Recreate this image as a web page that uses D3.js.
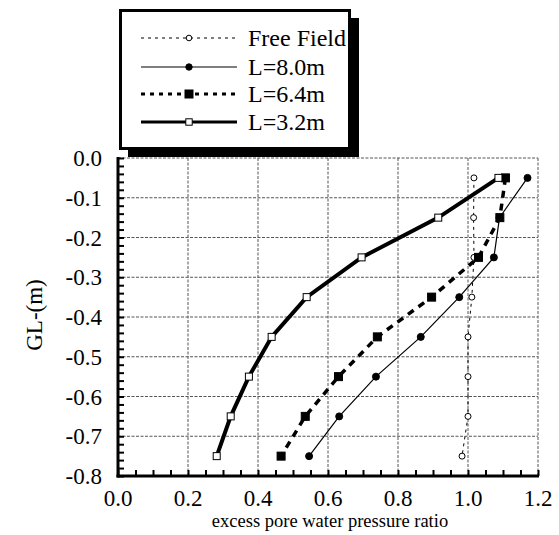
<!DOCTYPE html>
<html lang="en">
<head>
<meta charset="utf-8"/>
<title>Excess pore water pressure ratio</title>
<script src="https://cdnjs.cloudflare.com/ajax/libs/d3/7.8.5/d3.min.js"></script>
<style>
  body { margin: 0; background: #fff; }
  text { font-family: "Liberation Serif", "Times New Roman", serif; fill: #000; }
</style>
</head>
<body>
<svg id="chart" width="559" height="535"></svg>
<script>
// depths (m) of the measuring points
var depths = [-0.05, -0.15, -0.25, -0.35, -0.45, -0.55, -0.65, -0.75];

// excess pore water pressure ratio
var freeField = [1.017, 1.016, 1.017, 1.011, 1.0, 1.0, 1.0, 0.983];
var l80 = [1.17, 1.09, 1.074, 0.975, 0.865, 0.737, 0.632, 0.546];
var l64 = [1.107, 1.091, 1.03, 0.896, 0.741, 0.63, 0.535, 0.466];
var l32 = [1.087, 0.915, 0.696, 0.539, 0.439, 0.374, 0.322, 0.282];

var xTicks = [0, 0.2, 0.4, 0.6, 0.8, 1.0, 1.2];
var yTicks = [0, -0.1, -0.2, -0.3, -0.4, -0.5, -0.6, -0.7, -0.8];
var legendNames = ["Free Field", "L=8.0m", "L=6.4m", "L=3.2m"];

var svg = d3.select("#chart");
var x = d3.scaleLinear().domain([0, 1.2]).range([118, 538]);
var y = d3.scaleLinear().domain([0, -0.8]).range([158, 476]);

// grid (dashed grey), includes the top and right border
var grid = svg.append("g");
xTicks.forEach(function(t) {
  grid.append("line").attr("x1", x(t)).attr("x2", x(t)).attr("y1", y(0)).attr("y2", y(-0.8))
    .attr("stroke", "#555").attr("stroke-width", 1).attr("stroke-dasharray", "3,1.5");
});
yTicks.forEach(function(t) {
  grid.append("line").attr("x1", x(0)).attr("x2", x(1.2)).attr("y1", y(t)).attr("y2", y(t))
    .attr("stroke", "#555").attr("stroke-width", 1).attr("stroke-dasharray", "3,1.5");
});

// axes with inside ticks
var xAxis = d3.axisBottom(x).tickValues(d3.range(0, 1.2001, 0.05)).tickSize(-6).tickFormat("");
var gx = svg.append("g").attr("transform", "translate(0," + y(-0.8) + ")").call(xAxis);
var yAxis = d3.axisLeft(y).tickValues(d3.range(0, -0.8001, -0.02)).tickSize(-6).tickFormat("");
var gy = svg.append("g").attr("transform", "translate(" + x(0) + ",0)").call(yAxis);
[gx, gy].forEach(function(g) {
  g.selectAll(".tick line").attr("stroke", "#000").attr("stroke-width", 2);
  g.select(".domain").remove();
});
svg.append("line").attr("x1", x(0)).attr("x2", x(0)).attr("y1", y(0) - 1).attr("y2", y(-0.8) + 1.5)
  .attr("stroke", "#000").attr("stroke-width", 3);
svg.append("line").attr("x1", x(0) - 1.5).attr("x2", x(1.2) + 1).attr("y1", y(-0.8)).attr("y2", y(-0.8))
  .attr("stroke", "#000").attr("stroke-width", 3);

// tick labels
xTicks.forEach(function(t) {
  svg.append("text").attr("x", x(t)).attr("y", 506).attr("text-anchor", "middle")
    .attr("font-size", 23).text(d3.format(".1f")(t));
});
yTicks.forEach(function(t) {
  svg.append("text").attr("x", 102).attr("y", y(t) + 8).attr("text-anchor", "end")
    .attr("font-size", 23).text(d3.format(".1f")(t).replace("−", "-"));
});
svg.append("text").attr("x", 330).attr("y", 527).attr("text-anchor", "middle")
  .attr("font-size", 18.5).text("excess pore water pressure ratio");
svg.append("text").attr("transform", "translate(42,315) rotate(-90)").attr("text-anchor", "middle")
  .attr("font-size", 23).text("GL-(m)");

// series
var series = [
  { vals: freeField, width: 1, dash: "3,4", marker: "circle", fill: "#fff", r: 3, lw: 1, lr: 2.8 },
  { vals: l80, width: 1.2, dash: null, marker: "circle", fill: "#000", r: 3.5, lw: 1.2, lr: 3.2 },
  { vals: l64, width: 3.5, dash: "7,6", marker: "square", fill: "#000", r: 4, lw: 3, lr: 4, ldash: "4,5" },
  { vals: l32, width: 4, dash: null, marker: "square", fill: "#fff", r: 3.5, lw: 3, lr: 3.2 }
];
var line = d3.line().x(function(d) { return x(d[0]); }).y(function(d) { return y(d[1]); });

function drawMarker(g, s, cx, cy, r) {
  if (s.marker === "circle") {
    g.append("circle").attr("cx", cx).attr("cy", cy).attr("r", r)
      .attr("fill", s.fill).attr("stroke", "#000").attr("stroke-width", 1);
  } else {
    g.append("rect").attr("x", cx - r).attr("y", cy - r).attr("width", 2 * r).attr("height", 2 * r)
      .attr("fill", s.fill).attr("stroke", "#000").attr("stroke-width", 1);
  }
}

series.forEach(function(s) {
  var pts = s.vals.map(function(v, i) { return [v, depths[i]]; });
  svg.append("path").attr("d", line(pts)).attr("fill", "none").attr("stroke", "#000")
    .attr("stroke-width", s.width).attr("stroke-dasharray", s.dash);
});
series.forEach(function(s) {
  var g = svg.append("g");
  s.vals.forEach(function(v, i) { drawMarker(g, s, x(v), y(depths[i]), s.r); });
});

// legend with drop shadow
var lg = svg.append("g");
lg.append("rect").attr("x", 128).attr("y", 18).attr("width", 231).attr("height", 139).attr("fill", "#000");
lg.append("rect").attr("x", 120.5).attr("y", 10.5).attr("width", 229).attr("height", 138)
  .attr("fill", "#fff").attr("stroke", "#000").attr("stroke-width", 3);
var rowY = [38, 67, 94, 122];
series.forEach(function(s, i) {
  lg.append("line").attr("x1", 141).attr("x2", 237).attr("y1", rowY[i]).attr("y2", rowY[i])
    .attr("stroke", "#000").attr("stroke-width", s.lw).attr("stroke-dasharray", s.ldash || s.dash);
  drawMarker(lg, s, 189, rowY[i], s.lr);
  lg.append("text").attr("x", 248).attr("y", rowY[i] + 8).attr("font-size", 24).text(legendNames[i]);
});
</script>
</body>
</html>
